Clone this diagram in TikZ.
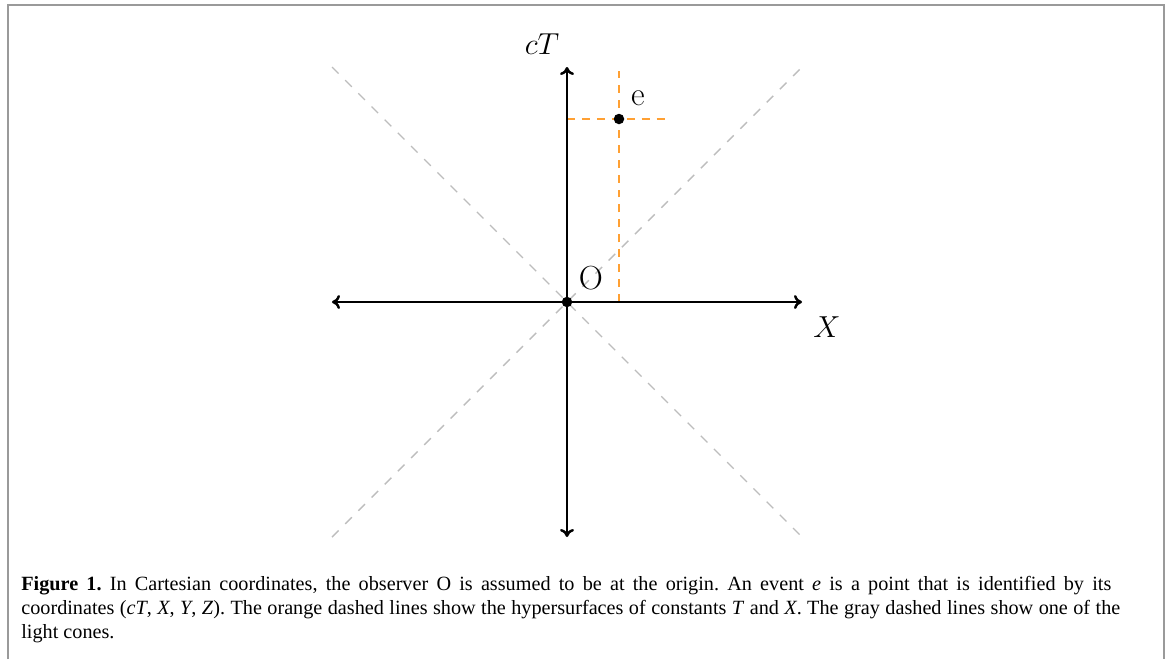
\documentclass[tikz,border=0pt]{standalone}
\usepackage{fontspec}
\usepackage{xcolor}
\usepackage{tikz}
\usetikzlibrary{arrows.meta}
\newfontfamily\capfont{Liberation Serif}
\definecolor{coneGray}{HTML}{BDBDBD}
\definecolor{surfOrange}{HTML}{FFA033}
\definecolor{frameGray}{HTML}{9A9A9A}
\tikzset{
  axis/.style={{To[length=1.6mm,width=2.8mm]}-{To[length=1.6mm,width=2.8mm]},
    line width=1.4pt, draw=black},
  cone line/.style={draw=coneGray, line width=0.8pt,
    dash pattern=on 5.3pt off 5.3pt},
  surface line/.style={draw=surfOrange, line width=0.9pt,
    dash pattern=on 4.5pt off 4pt},
  event dot/.style={circle, fill=black, minimum size=2.1mm, inner sep=0pt},
  axis label/.style={font=\fontsize{16.5}{20}\selectfont},
  point label/.style={font=\fontsize{19}{22}\selectfont},
  caption text/.style={font=\capfont\fontsize{11.5}{13.66}\selectfont\frenchspacing,
    align=left, anchor=base west, inner sep=0pt},
  frame/.style={draw=frameGray, line width=1.1pt}
}
\begin{document}
\begin{tikzpicture}
  \useasboundingbox (-11.34,-7.14) rectangle (12.08,6.04);
  \draw[frame] (-11.18,-7.14) -- (-11.18,5.94) -- (11.94,5.94) -- (11.94,-7.14);

  % light cone
  \coordinate (cnw) at (-4.7,4.7);
  \coordinate (cne) at (4.7,4.7);
  \coordinate (csw) at (-4.7,-4.7);
  \coordinate (cse) at (4.7,-4.7);
  \draw[cone line] (cnw) -- (cse);
  \draw[cone line] (csw) -- (cne);

  % surfaces of constant T and X through the event
  \coordinate (tstart) at (0,3.66);
  \coordinate (tend) at (2.0,3.66);
  \coordinate (xstart) at (1.04,0);
  \coordinate (xend) at (1.04,4.62);
  \draw[surface line] (tstart) -- (tend);
  \draw[surface line] (xstart) -- (xend);
  \node[event dot] (ev) at (1.04,3.66) {};

  % axes
  \coordinate (xl) at (-4.7,0);
  \coordinate (xr) at (4.7,0);
  \coordinate (tb) at (0,-4.7);
  \coordinate (tt) at (0,4.7);
  \draw[axis] (xl) -- (xr);
  \draw[axis] (tb) -- (tt);
  \node[event dot] (origin) at (0,0) {};

  \node[axis label] (ctlabel) at (-0.5,5.16) {$cT$};
  \node[axis label] (xlabel) at (5.2,-0.5) {$X$};
  \node[point label] (olabel) at (0.48,0.47) {O};
  \node[point label] (elabel) at (1.42,4.07) {e};

  \node[caption text] (caption) at (-10.92,-6.72) {%
    \makebox[21.8cm][s]{\textbf{Figure 1.} In Cartesian coordinates, the observer O is assumed to be at the origin. An event \textit{e} is a point that is identified by its}\\
    \makebox[21.98cm][s]{coordinates (\textit{cT}, \textit{X}, \textit{Y}, \textit{Z}). The orange dashed lines show the hypersurfaces of constants \textit{T} and \textit{X}. The gray dashed lines show one of the}\\
    light cones.};
\end{tikzpicture}
\end{document}
